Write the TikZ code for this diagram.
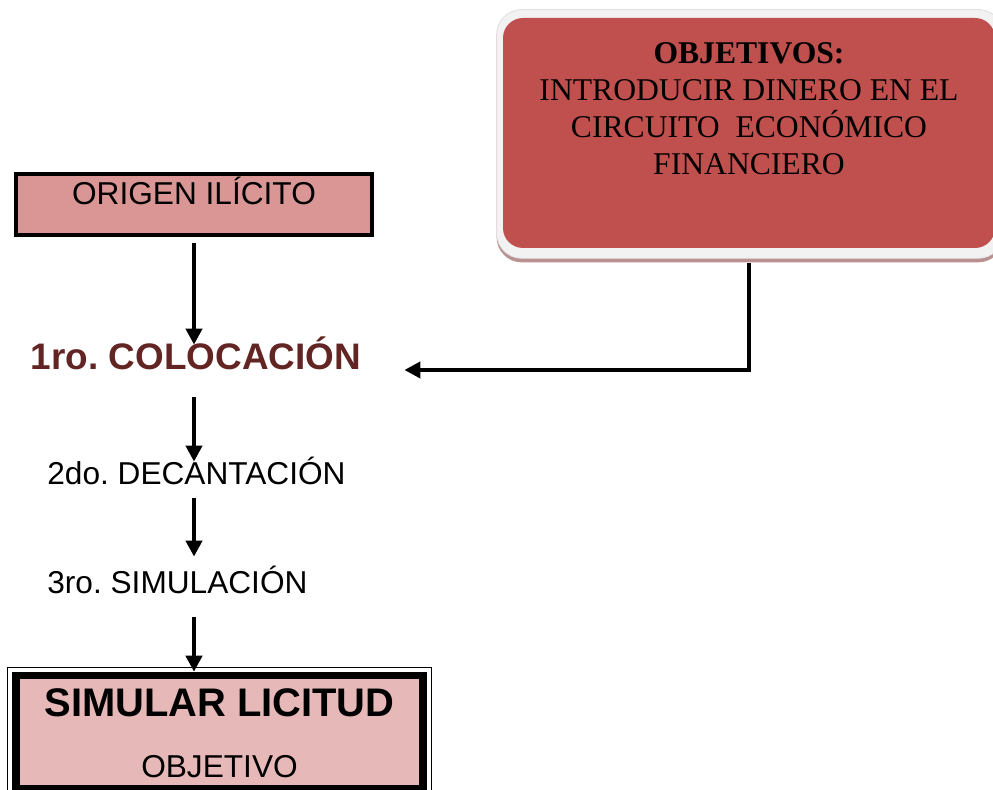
\documentclass[tikz,border=0pt]{standalone}
\usepackage{fontspec}
\setmainfont{Liberation Sans}
\newfontfamily\timesfont{Liberation Serif}
\usepackage{xcolor}
\usetikzlibrary{arrows.meta,backgrounds}
\frenchspacing

\definecolor{origenfill}{HTML}{D99694}
\definecolor{simularfill}{HTML}{E6B8B7}
\definecolor{objred}{HTML}{C0504D}
\definecolor{objframe}{HTML}{F2F2F2}
\definecolor{objshadow}{HTML}{B89190}
\definecolor{colotext}{HTML}{632523}

\tikzset{
  flecha/.style={-{Triangle[length=0.32cm,width=0.32cm]}, line width=0.09cm, black},
  paso/.style={inner sep=0pt, text height=0.46cm, text depth=0pt, font=\fontsize{18}{21.6}\selectfont}
}

\begin{document}
\begin{tikzpicture}
  \useasboundingbox (0,0) rectangle (19.86,15.8);

  \node[draw, line width=0.08cm, fill=origenfill, inner sep=0pt, minimum width=7.12cm,
        text height=0.62cm, text depth=0.6cm, anchor=base,
        font=\fontsize{18}{21.6}\selectfont] (origen) at (3.88,11.7) {ORIGEN ILÍCITO};

  \node[inner sep=0pt, text height=0.54cm, text depth=0pt, anchor=base, text=colotext,
        font=\fontsize{21}{25}\selectfont\bfseries] (colocacion) at (3.92,8.4) {1ro. COLOCACIÓN};
  \node[paso, anchor=base west] (decantacion) at (0.94,6.1) {2do. DECANTACIÓN};
  \node[paso, anchor=base west] (simulacion) at (0.94,3.92) {3ro. SIMULACIÓN};

  \node[draw, line width=0.15cm, fill=simularfill, inner sep=0pt, minimum width=8.14cm,
        text height=0.83cm, text depth=1.43cm, anchor=base,
        font=\fontsize{22.7}{27}\selectfont\bfseries] (simular) at (4.39,1.46) {SIMULAR LICITUD};
  \node[inner sep=0pt, anchor=base, font=\fontsize{18}{21.6}\selectfont] (objetivo)
        at ([yshift=-1.22cm]simular.base) {OBJETIVO};
  \draw[line width=0.02cm] ([shift={(-0.09,0.09)}]simular.north west) rectangle ([shift={(0.09,-0.09)}]simular.south east);

  \node[fill=objred, rounded corners=0.4cm, minimum width=9.84cm, minimum height=4.6cm] (objetivos) at (14.98,13.14) {};
  \begin{scope}[on background layer]
    \fill[objshadow, rounded corners=0.5cm] ([shift={(-0.12,0.16)}]objetivos.north west) rectangle ([shift={(0.16,-0.28)}]objetivos.south east);
    \filldraw[fill=objframe, draw=gray!25, rounded corners=0.5cm] ([shift={(-0.12,0.16)}]objetivos.north west) rectangle ([shift={(0.16,-0.2)}]objetivos.south east);
  \end{scope}
  \node[inner sep=0pt, anchor=north, align=center, font=\timesfont\fontsize{18}{20.9}\selectfont] (objtexto)
        at ([yshift=-0.5cm]objetivos.north) {\textbf{OBJETIVOS:}\\INTRODUCIR DINERO EN EL\\CIRCUITO \ ECONÓMICO\\FINANCIERO};

  \draw[flecha, shorten <=0.12cm, shorten >=-0.04cm] (origen.south) -- (origen.south |- colocacion.north);
  \draw[flecha, shorten <=0.54cm] (colocacion.south -| origen.south) -- (decantacion.north -| origen.south);
  \draw[flecha, shorten <=0.26cm, shorten >=0.28cm] (decantacion.south -| origen.south) -- (simulacion.north -| origen.south);
  \draw[flecha, shorten <=0.46cm] (simulacion.south -| origen.south) -- (simular.north -| origen.south);
  \draw[flecha, shorten <=0.3cm, shorten >=0.86cm] (objetivos.south) |- (colocacion.base east);
\end{tikzpicture}
\end{document}
